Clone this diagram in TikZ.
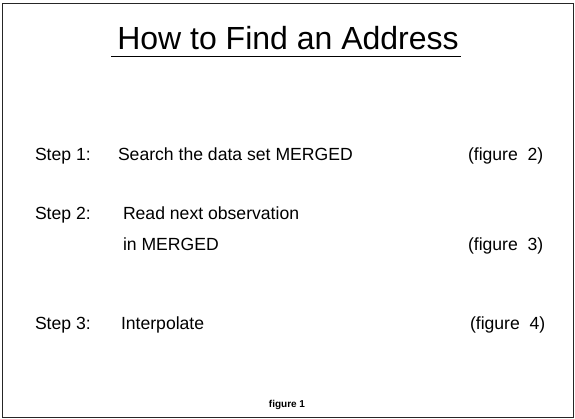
\documentclass[tikz,border=0pt]{standalone}
\usepackage{fontspec}
\setmainfont{Liberation Sans}
\begin{document}
\begin{tikzpicture}[x=1pt,y=-1pt,
  txt/.style={inner sep=0pt, outer sep=0pt, anchor=base west, font=\fontsize{17.6}{20}\selectfont},
  titletxt/.style={inner sep=0pt, outer sep=0pt, anchor=base, font=\fontsize{32}{36}\selectfont},
  captxt/.style={inner sep=0pt, outer sep=0pt, anchor=base, font=\fontsize{10}{12}\selectfont\bfseries},
  frameline/.style={line width=1pt, draw=black!85}]
\useasboundingbox (0,0) rectangle (575,419);
\draw[frameline] (2.5,3.5) rectangle (573,417);
\node[titletxt] (title) at (288,50) {How to Find an Address};
\draw[line width=1pt] ([xshift=-6pt,yshift=-7pt]title.base west) -- ([xshift=2pt,yshift=-7pt]title.base east);
\node[txt] (s1) at (35,161) {Step 1:};
\node[txt] (t1) at (118,161) {Search the data set MERGED};
\node[txt] (f2) at (468,161) {(figure\ \ 2)};
\node[txt] (s2) at (35,220) {Step 2:};
\node[txt] (t2a) at (123,220) {Read next observation};
\node[txt] (t2b) at (123,251) {in MERGED};
\node[txt] (f3) at (468,251) {(figure\ \ 3)};
\node[txt] (s3) at (35,329) {Step 3:};
\node[txt] (t3) at (121,329) {Interpolate};
\node[txt] (f4) at (470,329) {(figure\ \ 4)};
\node[captxt] (cap) at (287,407) {figure 1};
\end{tikzpicture}
\end{document}
